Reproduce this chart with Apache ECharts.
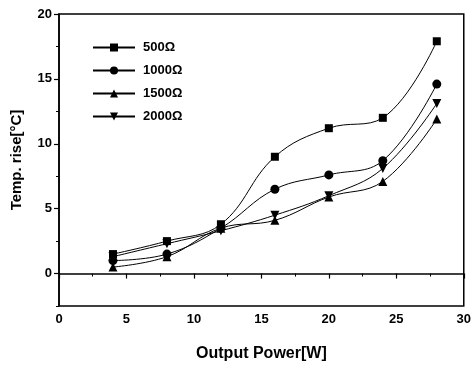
<!DOCTYPE html>
<html>
<head>
<meta charset="utf-8">
<script src="https://cdn.jsdelivr.net/npm/echarts@6/dist/echarts.min.js"></script>
<style>html,body{margin:0;padding:0;background:#fff}#c{width:474px;height:373px}</style>
</head>
<body>
<div id="c"></div>
<script>
var xValues = [4, 8, 12, 16, 20, 24, 28];
var names = ['500Ω', '1000Ω', '1500Ω', '2000Ω'];
var s500 = [1.5, 2.5, 3.8, 9.0, 11.2, 12.0, 17.9];
var s1000 = [1.0, 1.5, 3.5, 6.5, 7.6, 8.7, 14.6];
var s1500 = [0.5, 1.3, 3.5, 4.1, 5.9, 7.1, 11.9];
var s2000 = [1.3, 2.3, 3.3, 4.5, 6.0, 8.1, 13.1];
var yLabelTicks = [0, 5, 10, 15, 20];
var yMinorTicks = [-2.5, 2.5, 7.5, 12.5, 17.5];

var font = 'Liberation Sans, Arial, sans-serif';
function pairs(arr) { return xValues.map(function (x, i) { return [x, arr[i]]; }); }
function mk(name, data, symbol, rot) {
  return {
    name: name, type: 'line', data: pairs(data), smooth: 0.4,
    symbol: symbol, symbolSize: symbol === 'rect' ? 8 : 9, symbolRotate: rot || 0,
    lineStyle: { color: '#000', width: 1 },
    itemStyle: { color: '#000' },
    emphasis: { disabled: true }
  };
}
var chart = echarts.init(document.getElementById('c'), null, { renderer: 'canvas' });
chart.setOption({
  animation: false,
  backgroundColor: '#fff',
  grid: { left: 59, right: 10, top: 14, bottom: 67, show: true, borderColor: '#000', borderWidth: 1.5, backgroundColor: 'transparent' },
  legend: {
    orient: 'vertical', left: 87, top: 36, itemWidth: 42, itemHeight: 10, itemGap: 10,
    textStyle: { fontFamily: font, fontWeight: 'bold', fontSize: 13, color: '#000', padding: [0, 0, 0, 3] },
    data: names
  },
  xAxis: {
    type: 'value', min: 0, max: 30, interval: 5,
    name: 'Output Power[W]', nameLocation: 'middle', nameGap: 40,
    nameTextStyle: { fontFamily: font, fontWeight: 'bold', fontSize: 16, color: '#000' },
    axisLine: { show: true, lineStyle: { color: '#000', width: 1.5 } },
    axisTick: { show: true, length: 5, inside: false, lineStyle: { color: '#000', width: 1.2 } },
    minorTick: { show: true, splitNumber: 2, length: 3, lineStyle: { color: '#000', width: 1 } },
    splitLine: { show: false },
    axisLabel: { fontFamily: font, fontWeight: 'bold', fontSize: 13, color: '#000', margin: 7 }
  },
  yAxis: [{
    type: 'value', min: -2.5, max: 20, interval: 2.5,
    name: 'Temp. rise[°C]', nameLocation: 'middle', nameGap: 35,
    nameTextStyle: { fontFamily: font, fontWeight: 'bold', fontSize: 15, color: '#000' },
    axisLine: { show: true, lineStyle: { color: '#000', width: 1.5 } },
    axisTick: { show: true, length: 5, customValues: yLabelTicks, lineStyle: { color: '#000', width: 1.2 } },
    splitLine: { show: false },
    axisLabel: { customValues: yLabelTicks, fontFamily: font, fontWeight: 'bold', fontSize: 13, color: '#000', margin: 7 }
  }, {
    type: 'value', min: -2.5, max: 20, interval: 2.5, position: 'left',
    axisLine: { show: false },
    axisTick: { show: true, length: 3, customValues: yMinorTicks, lineStyle: { color: '#000', width: 1 } },
    axisLabel: { show: false }, splitLine: { show: false }
  }],
  series: [
    mk(names[0], s500, 'rect'),
    mk(names[1], s1000, 'circle'),
    mk(names[2], s1500, 'triangle'),
    mk(names[3], s2000, 'triangle', 180)
  ]
});
</script>
</body>
</html>
